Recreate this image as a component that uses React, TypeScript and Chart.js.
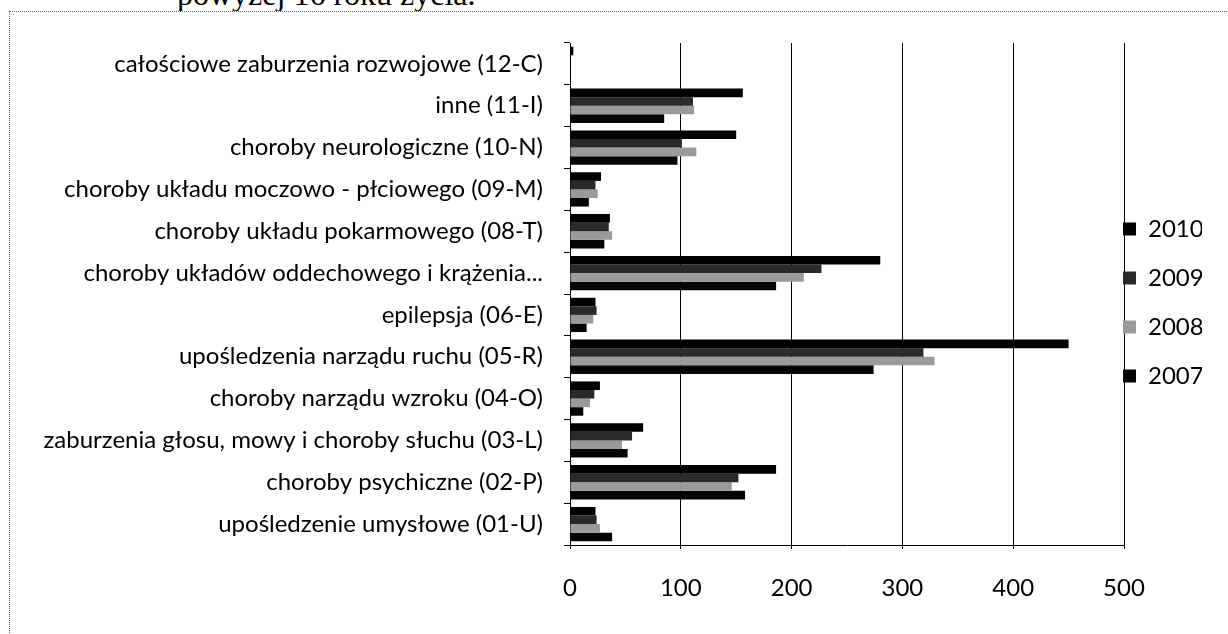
import React, { useEffect, useRef } from "react";
import { Chart, registerables } from "chart.js";

Chart.register(...registerables);

const categories = [
  "całościowe zaburzenia rozwojowe (12-C)",
  "inne (11-I)",
  "choroby neurologiczne (10-N)",
  "choroby układu moczowo - płciowego (09-M)",
  "choroby układu pokarmowego (08-T)",
  "choroby układów oddechowego i krążenia...",
  "epilepsja (06-E)",
  "upośledzenia narządu ruchu (05-R)",
  "choroby narządu wzroku (04-O)",
  "zaburzenia głosu, mowy i choroby słuchu (03-L)",
  "choroby psychiczne (02-P)",
  "upośledzenie umysłowe (01-U)",
];

const seriesNames = ["2010", "2009", "2008", "2007"];
const values2010 = [3, 156, 150, 28, 36, 280, 23, 450, 27, 66, 186, 23];
const values2009 = [0, 111, 101, 23, 35, 227, 24, 319, 22, 56, 152, 24];
const values2008 = [0, 112, 114, 25, 38, 211, 21, 329, 18, 47, 146, 27];
const values2007 = [0, 85, 97, 17, 31, 186, 15, 274, 12, 52, 158, 38];
const xTickValues = [0, 100, 200, 300, 400, 500];

const seriesColors = ["#000000", "#2a2a2a", "#9a9a9a", "#050505"];

const FONT = "Lato";
const FS = 24;

const legendPlace = {
  id: "legendPlace",
  afterLayout(chart: any) {
    const lg = chart.legend;
    if (!lg || !lg.columnSizes || !lg.columnSizes.length) return;
    const pad = lg.options.labels.padding;
    const area = chart.chartArea;
    const dx = area.right - 1 - (lg.left + pad);
    lg.left += dx;
    lg.right += dx;
    const colH = lg.columnSizes[0].height;
    const curY = (lg.top + pad + lg.bottom - colH) / 2;
    const dy = area.top + 186 - FS / 2 - curY;
    lg.top += dy;
    lg.bottom += dy;
  },
};

export default function App() {
  const ref = useRef<HTMLCanvasElement | null>(null);

  useEffect(() => {
    if (!ref.current) return;
    const datasets = [values2010, values2009, values2008, values2007].map((vals, i) => ({
      label: seriesNames[i],
      data: vals,
      backgroundColor: seriesColors[i],
      borderWidth: 0,
      categoryPercentage: 0.82,
      barPercentage: 1.0,
    }));
    const chart = new Chart(ref.current, {
      type: "bar",
      data: { labels: categories, datasets },
      options: {
        indexAxis: "y",
        animation: false,
        responsive: false,
        layout: { padding: { top: 31, left: 0, right: 0, bottom: 0 } },
        plugins: {
          tooltip: { enabled: false },
          title: { display: false },
          legend: {
            display: true,
            position: "right",
            align: "center",
            maxWidth: 104,
            labels: {
              color: "#000",
              font: { family: FONT, size: FS },
              boxWidth: 13,
              boxHeight: 13,
              padding: 25,
            },
          },
        },
        scales: {
          x: {
            type: "linear",
            min: 0,
            max: 500,
            afterBuildTicks: (scale: any) => {
              scale.ticks = xTickValues.map((v) => ({ value: v }));
            },
            afterFit: (scale: any) => {
              scale.height = 89;
            },
            grid: {
              color: "#000",
              lineWidth: 1,
              tickLength: 4,
              drawTicks: true,
            },
            border: { display: true, color: "#000", width: 1 },
            ticks: {
              color: "#000",
              font: { family: FONT, size: FS },
              padding: 25,
            },
          },
          y: {
            type: "category",
            afterFit: (scale: any) => {
              scale.width = 560;
              scale.paddingTop = 0;
              scale.paddingBottom = 0;
            },
            grid: {
              display: true,
              drawOnChartArea: false,
              color: "#000",
              tickLength: 6,
              offset: true,
            },
            border: { display: true, color: "#000", width: 1 },
            ticks: {
              color: "#000",
              font: { family: FONT, size: FS },
              padding: 21,
              autoSkip: false,
            },
          },
        },
      },
      plugins: [legendPlace],
    });
    return () => chart.destroy();
  }, []);

  return (
    <div
      style={{
        position: "fixed",
        left: 0,
        top: 0,
        width: 1228,
        height: 634,
        overflow: "hidden",
        background: "#fff",
      }}
    >
      <div
        style={{
          position: "absolute",
          left: 177,
          top: -22,
          fontFamily: "'Liberation Serif', serif",
          fontSize: 32,
          lineHeight: "32px",
          color: "#000",
          whiteSpace: "nowrap",
        }}
      >
        powyżej 16 roku życia.
      </div>
      <div
        style={{
          position: "absolute",
          left: 9,
          top: 11,
          width: 1240,
          height: 640,
          border: "1px dotted #666",
          background: "#fff",
        }}
      />
      <canvas
        ref={ref}
        width={1218}
        height={622}
        style={{ position: "absolute", left: 10, top: 12, width: 1218, height: 622 }}
      />
    </div>
  );
}
